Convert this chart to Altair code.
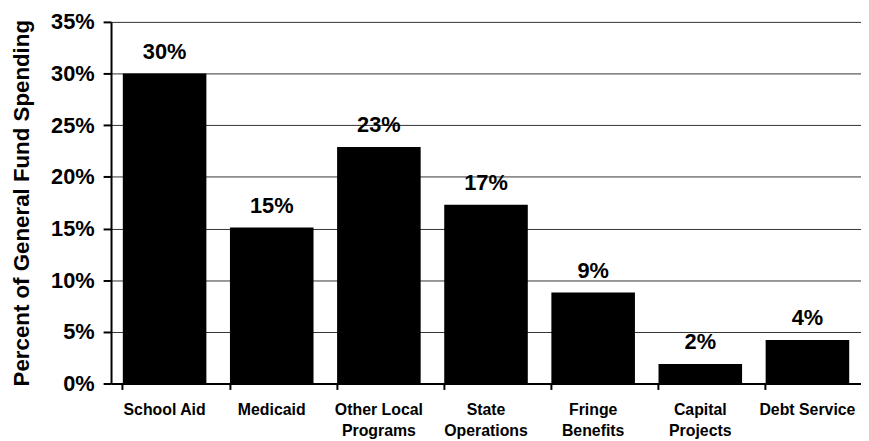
import altair as alt
import pandas as pd

categories = ["School Aid", "Medicaid", "Other Local|Programs", "State|Operations",
              "Fringe|Benefits", "Capital|Projects", "Debt Service"]
values = [30.0, 15.1, 22.9, 17.3, 8.8, 1.9, 4.2]
y_ticks = [0, 5, 10, 15, 20, 25, 30, 35]

df = pd.DataFrame({"cat": categories, "val": values})
df["lbl"] = [f"{round(v)}%" for v in values]

FONT = "Liberation Sans"

x_enc = alt.X("cat:N", sort=categories,
              scale=alt.Scale(paddingInner=0.22, paddingOuter=0.11),
              axis=alt.Axis(title=None, labelAngle=0, labelExpr="split(datum.label, '|')",
                            labelFont=FONT, labelFontWeight="bold", labelFontSize=16,
                            labelColor="black", labelPadding=12, labelLineHeight=22,
                            labelBaseline="top",
                            tickColor="black", tickSize=6, tickWidth=2, bandPosition=0,
                            domainColor="black", domainWidth=2, grid=False))

y_enc = alt.Y("val:Q", scale=alt.Scale(domain=[0, 35], nice=False),
              axis=alt.Axis(title="Percent of General Fund Spending", values=y_ticks,
                            labelExpr="datum.value + '%'",
                            labelFont=FONT, labelFontWeight="bold", labelFontSize=22,
                            labelColor="black", labelPadding=9,
                            tickColor="black", tickSize=8, tickWidth=2,
                            domainColor="black", domainWidth=2,
                            grid=True, gridColor="#333333", gridWidth=1,
                            titleFont=FONT, titleFontWeight="bold", titleFontSize=22.5,
                            titleColor="black", titleX=-90, titleY=182.5,
                            titleAngle=-90, titleBaseline="middle", titleAlign="center"))

bars = alt.Chart(df).mark_bar(color="black").encode(x=x_enc, y=y_enc)

labels = alt.Chart(df).mark_text(font=FONT, fontWeight="bold", fontSize=22,
                                 color="black", baseline="alphabetic", dy=-15).encode(
    x=alt.X("cat:N", sort=categories),
    y=alt.Y("val:Q"),
    text="lbl:N")

chart = (bars + labels).properties(
    width=757, height=365,
    autosize=alt.AutoSizeParams(type="none"),
    padding={"left": 104, "top": 12, "right": 0, "bottom": 56},
).configure_view(stroke=None)

chart.save("out.html", embed_options={"renderer": "svg", "actions": False})
